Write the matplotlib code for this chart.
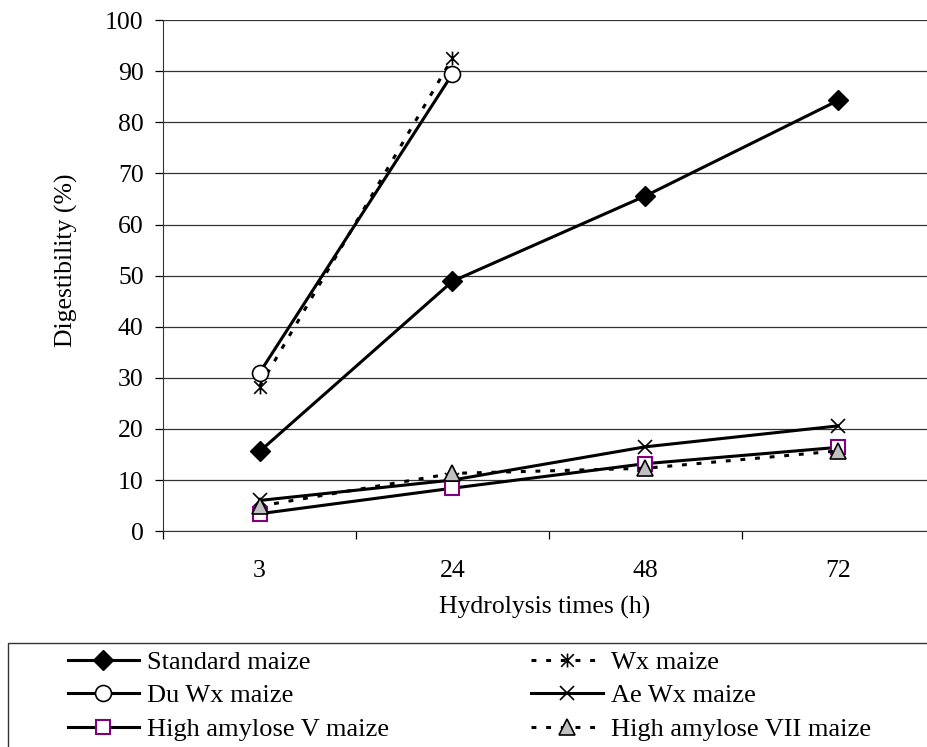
import numpy as np
import matplotlib
matplotlib.use("Agg")
import matplotlib.pyplot as plt
from matplotlib.path import Path
from matplotlib.patches import Rectangle

# ─── Datos ────────────────────────────────────────────────────────────────────
horas        = ["3", "24", "48", "72"]
standard     = [15.6, 48.9, 65.6, 84.3]
wx           = [28.3, 92.6]
du_wx        = [31.0, 89.5]
ae_wx        = [6.0, 10.0, 16.5, 20.6]
high_am_v    = [3.4, 8.4, 13.2, 16.4]
high_am_vii  = [4.9, 11.3, 12.3, 15.7]

plt.rcParams["font.family"] = ["Liberation Serif", "DejaVu Serif"]
FS = 18.5

# marcador tipo asterisco (X + línea vertical)
star = Path([(-1, -1), (1, 1), (-1, 1), (1, -1), (0, -1.1), (0, 1.1)],
            [Path.MOVETO, Path.LINETO, Path.MOVETO, Path.LINETO, Path.MOVETO, Path.LINETO])

fig = plt.figure(figsize=(9.27, 7.47), dpi=100)
ax = fig.add_axes([0.176, 0.289, 0.824, 0.684])

x = np.arange(len(horas))
lw = 2.2
dots = (0, (1.6, 3.2))

ax.plot(x, standard, color="black", lw=lw, marker="D", ms=10,
        mfc="black", mec="black", label="Standard maize", zorder=3)
ax.plot(x[:len(wx)], wx, color="black", lw=lw, ls=dots, marker=star, ms=10,
        mfc="none", mec="black", mew=1.2, label="Wx maize", zorder=4)
ax.plot(x[:len(du_wx)], du_wx, color="black", lw=lw, marker="o", ms=11.5,
        mfc="white", mec="black", mew=1.2, label="Du Wx maize", zorder=5)
ax.plot(x, ae_wx, color="black", lw=lw, marker="x", ms=10,
        mec="black", mew=1.2, label="Ae Wx maize", zorder=6)
ax.plot(x, high_am_v, color="black", lw=lw, marker="s", ms=10,
        mfc="white", mec="#800080", mew=1.5, label="High amylose V maize", zorder=7)
ax.plot(x, high_am_vii, color="black", lw=lw, ls=dots, marker="^", ms=12,
        mfc="#c0c0c0", mec="black", mew=1.2, label="High amylose VII maize", zorder=8)

ax.set_xlim(-0.5, 3.46)
ax.set_ylim(0, 100)
ax.set_yticks(np.arange(0, 101, 10))
ax.set_xticks(x)
ax.set_xticklabels(horas)
ax.set_xticks([-0.5, 0.5, 1.5, 2.5], minor=True)
ax.tick_params(axis="x", which="major", length=0, labelsize=FS, pad=21)
ax.tick_params(axis="x", which="minor", length=6, direction="out", width=0.9)
ax.tick_params(axis="y", length=6, direction="out", width=0.9, labelsize=FS, pad=8)
ax.grid(axis="y", color="#333333", lw=0.9)
ax.set_axisbelow(True)
for s in ["top", "right"]:
    ax.spines[s].set_visible(False)
ax.spines["left"].set_color("#333333")
ax.spines["bottom"].set_color("#333333")

ax.set_xlabel("Hydrolysis times (h)", fontsize=FS)
ax.xaxis.set_label_coords(0.5, -0.149)
ax.xaxis.label.set_va("center")
ax.set_ylabel("Digestibility (%)", fontsize=FS)
ax.yaxis.set_label_coords(-0.127, 0.53)
ax.yaxis.label.set_va("center")

# ─── Leyenda ──────────────────────────────────────────────────────────────────
fig.patches.append(Rectangle((0.009, -0.02), 1.0, 0.159, transform=fig.transFigure,
                             fill=False, edgecolor="#333333", lw=1.0))
h, l = ax.get_legend_handles_labels()
orden = [0, 2, 4, 1, 3, 5]
fig.legend([h[i] for i in orden], [l[i] for i in orden], ncol=2,
           loc="upper left", bbox_to_anchor=(0.053, 0.154), frameon=False,
           fontsize=19, handlelength=2.7, handletextpad=0.3,
           columnspacing=5.4, labelspacing=0.38, borderpad=0.2)

plt.savefig("out.png", dpi=100)
